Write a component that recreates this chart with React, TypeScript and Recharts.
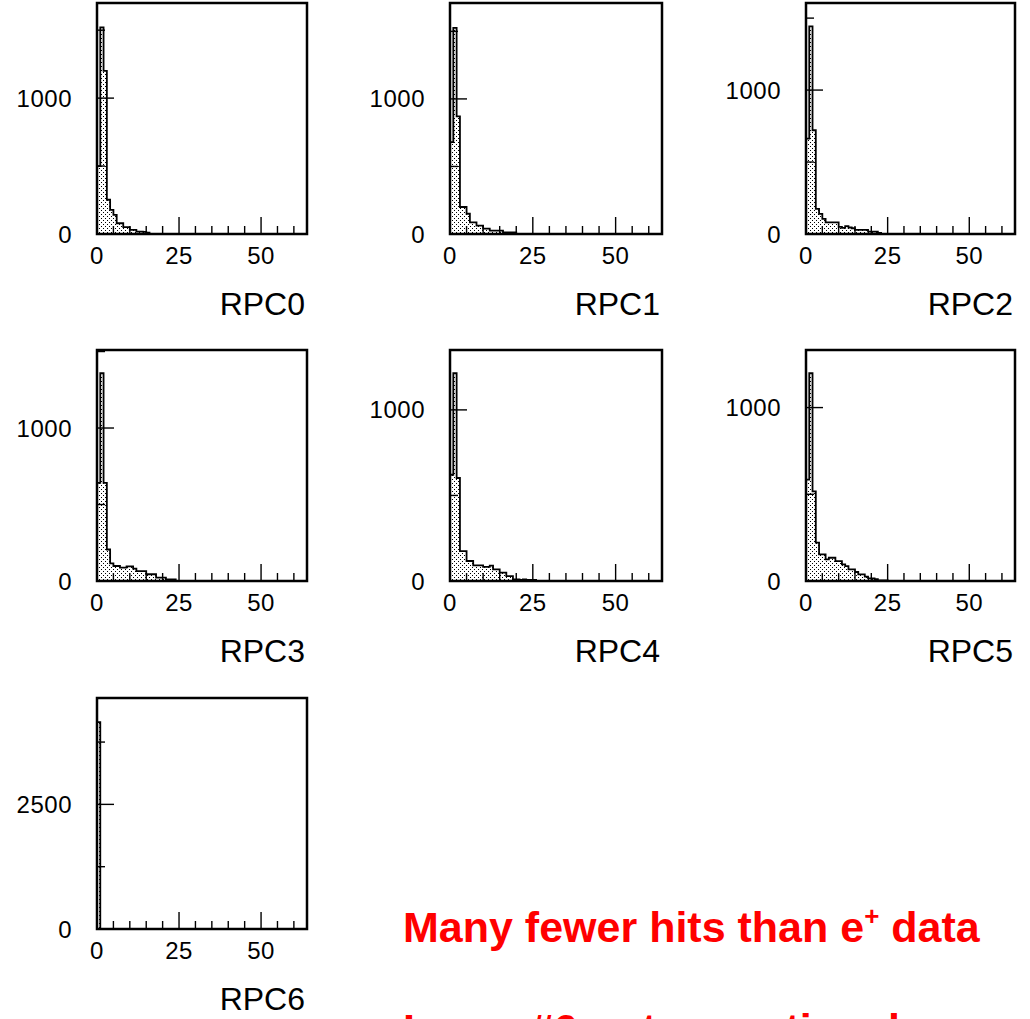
import React from 'react';
import { ComposedChart, Area, XAxis, YAxis, ReferenceArea } from 'recharts';

// ---- data (bin counts, bins of width 1 starting at 0) ----
const panelNames = ['RPC0', 'RPC1', 'RPC2', 'RPC3', 'RPC4', 'RPC5', 'RPC6'];
const rpc0Counts = [500, 1520, 1200, 252, 178, 141, 79, 79, 50, 50, 30, 30, 17, 17, 15, 10];
const rpc1Counts = [680, 1526, 870, 200, 200, 150, 86, 86, 62, 62, 40, 40, 25, 25, 25, 25, 12, 12, 12, 12];
const rpc2Counts = [663, 1442, 721, 174, 140, 105, 81, 81, 81, 81, 50, 42, 55, 45, 40, 28, 28, 28, 28, 16, 16, 16, 7];
const rpc3Counts = [641, 1358, 641, 206, 115, 98, 98, 87, 87, 95, 95, 81, 65, 65, 65, 44, 44, 44, 22, 22, 22, 11, 11, 11];
const rpc4Counts = [621, 1214, 602, 175, 175, 117, 117, 91, 91, 91, 82, 82, 90, 68, 68, 49, 49, 29, 29, 10, 10, 6, 10, 6, 6, 6];
const rpc5Counts = [584, 1198, 517, 221, 153, 153, 125, 134, 134, 115, 115, 96, 86, 67, 67, 52, 38, 38, 25, 15, 15, 10, 4, 4, 4];
const rpc6Counts = [4150];
const allCounts = [rpc0Counts, rpc1Counts, rpc2Counts, rpc3Counts, rpc4Counts, rpc5Counts, rpc6Counts];

const yMaxes = [1700, 1710, 1605, 1510, 1350, 1332, 4634];
const yTicksSmall = [0, 500, 1000, 1500];
const yTicksLarge = [0, 1250, 2500, 3750];
const yLabelsSmall = [0, 1000];
const yLabelsLarge = [0, 2500];

const xMax = 64;
const xTicks = [0, 5, 10, 15, 20, 25, 30, 35, 40, 45, 50, 55, 60];
const xLabels = [0, 25, 50];
const xMajor = [25, 50];

const noteLine1 = 'Many fewer hits than e';
const noteSup = '+';
const noteLine1End = ' data';
const noteLine2 = 'Layer #6 not operational';

// ---- layout ----
const colLeft = [97, 450, 806];
const colWidth = [210, 212, 209];
const rowTop = [3, 350, 698];
const plotH = 231;
const FONT = '"Liberation Sans", Arial, Helvetica, sans-serif';

const buildData = (counts: number[]) => {
  const rows: { x: number; v: number }[] = [];
  for (let i = 0; i < xMax; i++) rows.push({ x: i, v: counts[i] ?? 0 });
  rows.push({ x: xMax, v: 0 });
  return rows;
};

const XTick = (props: any) => {
  const { x, y, payload } = props;
  const v = payload.value;
  const major = xMajor.includes(v);
  return (
    <g>
      {v !== 0 && (
        <line x1={x} x2={x} y1={y} y2={y - (major ? 17 : 8)} stroke="#000" strokeWidth={1.4} />
      )}
      {xLabels.includes(v) && (
        <text x={x} y={y + 30} textAnchor="middle" fontSize={24} letterSpacing={0.5} fontFamily={FONT} fill="#000">
          {v}
        </text>
      )}
    </g>
  );
};

const makeYTick = (labels: number[], yMax: number) => (props: any) => {
  const { x, y, payload } = props;
  const v = payload.value;
  const major = labels.includes(v) && v !== 0;
  return (
    <g>
      {v !== 0 && v < yMax && (
        <line x1={x} x2={x + (major ? 17 : 8)} y1={y} y2={y} stroke="#000" strokeWidth={1.4} />
      )}
      {labels.includes(v) && (
        <text x={x - 25} y={y + 8.5} textAnchor="end" fontSize={24} letterSpacing={0.5} fontFamily={FONT} fill="#000">
          {v}
        </text>
      )}
    </g>
  );
};

const Panel = ({ idx }: { idx: number }) => {
  const col = idx % 3;
  const row = Math.floor(idx / 3);
  const fw = colWidth[col];
  const yMax = yMaxes[idx];
  const big = idx === 6;
  const ticks = (big ? yTicksLarge : yTicksSmall).filter((t) => t <= yMax);
  const labels = big ? yLabelsLarge : yLabelsSmall;
  const name = panelNames[idx];
  const marginL = 89;
  const marginR = 15;
  const chartW = marginL + 1 + fw + marginR;
  const chartH = 3 + plotH + 1 + 89;
  const data = buildData(allCounts[idx]);
  const pid = `dots${idx}`;
  return (
    <div style={{ position: 'absolute', left: colLeft[col] - 90, top: rowTop[row] - 3 }}>
      <ComposedChart
        width={chartW}
        height={chartH}
        data={data}
        margin={{ top: 3, right: marginR, bottom: 89, left: marginL }}
      >
        <defs>
          <pattern id={pid} width={4} height={4} patternUnits="userSpaceOnUse">
            <rect x={0} y={0} width={1} height={1} fill="#000" />
            <rect x={2} y={2} width={1} height={1} fill="#000" />
          </pattern>
        </defs>
        <XAxis
          dataKey="x"
          type="number"
          domain={[0, xMax]}
          allowDataOverflow
          ticks={xTicks}
          interval={0}
          tickSize={0}
          tickMargin={0}
          tickLine={false}
          axisLine={false}
          height={1}
          tick={XTick}
          label={(p: any) => {
            const vb = p && p.viewBox;
            if (!vb) return null;
            return (
              <text
                x={vb.x + vb.width - 2}
                y={vb.y + 81}
                textAnchor="end"
                fontSize={32}
                fontFamily={FONT}
                fill="#000"
              >
                {name}
              </text>
            );
          }}
        />
        <YAxis
          type="number"
          domain={[0, yMax]}
          allowDataOverflow
          ticks={ticks}
          interval={0}
          tickSize={0}
          tickMargin={0}
          tickLine={false}
          axisLine={false}
          width={1}
          tick={makeYTick(labels, yMax)}
        />
        <Area
          type="stepAfter"
          dataKey="v"
          stroke="#000"
          strokeWidth={1.8}
          fill={`url(#${pid})`}
          fillOpacity={1}
          dot={false}
          activeDot={false}
          isAnimationActive={false}
        />
        <ReferenceArea
          x1={0}
          x2={xMax}
          y1={0}
          y2={yMax}
          fill="none"
          fillOpacity={0}
          stroke="#000"
          strokeWidth={2.5}
          strokeOpacity={1}
        />
      </ComposedChart>
    </div>
  );
};

export default function App() {
  return (
    <div
      style={{
        position: 'absolute',
        left: 0,
        top: 0,
        width: 1030,
        height: 1019,
        overflow: 'hidden',
        background: '#fff',
      }}
    >
      {panelNames.map((_, i) => (
        <Panel key={i} idx={i} />
      ))}
      <svg
        width={1030}
        height={1019}
        style={{ position: 'absolute', left: 0, top: 0, pointerEvents: 'none' }}
      >
        <text x={403} y={942} fontSize={43} fontWeight="bold" fontFamily={FONT} fill="#ff0000">
          {noteLine1}
          <tspan fontSize={26} dy={-17}>
            {noteSup}
          </tspan>
          <tspan fontSize={43} dy={17}>
            {noteLine1End}
          </tspan>
        </text>
        <text x={403} y={1044} fontSize={43} fontWeight="bold" fontFamily={FONT} fill="#ff0000">
          {noteLine2}
        </text>
      </svg>
    </div>
  );
}
